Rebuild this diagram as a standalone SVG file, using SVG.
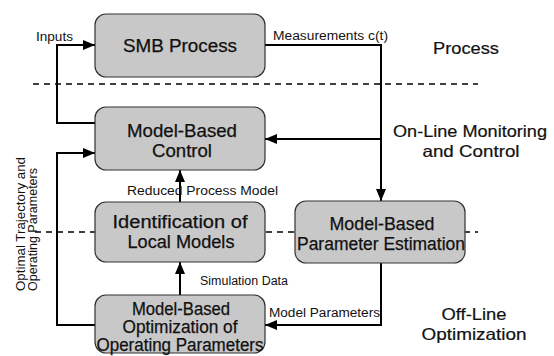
<svg xmlns="http://www.w3.org/2000/svg" width="554" height="356" viewBox="0 0 554 356">
<style>
.box{fill:#c8c8c8;stroke:#333;stroke-width:1.2}
.t{font-family:"Liberation Sans",Arial,sans-serif;fill:#111}
.bt{font-size:17.5px;text-anchor:middle;stroke:#111;stroke-width:0.25}
.lb{font-size:12px}
.rl{font-size:13px}
.rt{font-size:16.5px;text-anchor:middle;stroke:#111;stroke-width:0.2}
.c{fill:none;stroke:#000;stroke-width:2}
.d{fill:none;stroke:#000;stroke-width:1.3;stroke-dasharray:6 5}
</style>
<defs>
<marker id="ah" markerUnits="userSpaceOnUse" markerWidth="12" markerHeight="10" refX="12" refY="5" orient="auto">
<path d="M0,0 L12,5 L0,10 z" fill="#000"/>
</marker>
</defs>
<g id="dashes">
<line class="d" x1="33" y1="84" x2="478" y2="84"/>
<line class="d" x1="35" y1="232" x2="478" y2="232"/>
</g>
<g id="connectors">
<path class="c" d="M95,123 H57 V45 H95" marker-end="url(#ah)"/>
<path class="c" d="M265,45 H381 V201" marker-end="url(#ah)"/>
<path class="c" d="M381,139 H265" marker-end="url(#ah)"/>
<path class="c" d="M180,202 V170" marker-end="url(#ah)"/>
<path class="c" d="M180,295 V262" marker-end="url(#ah)"/>
<path class="c" d="M381,263 V325 H265" marker-end="url(#ah)"/>
<path class="c" d="M95,325 H57 V153 H95" marker-end="url(#ah)"/>
</g>
<g id="smb">
<rect class="box" x="95" y="14" width="170" height="63" rx="11"/>
<text class="t bt" x="180" y="52" textLength="114" lengthAdjust="spacingAndGlyphs">SMB Process</text>
</g>
<g id="control">
<rect class="box" x="95" y="107" width="170" height="63" rx="11"/>
<text class="t bt" x="182" y="137" textLength="110" lengthAdjust="spacingAndGlyphs">Model-Based</text>
<text class="t bt" x="182" y="157" textLength="60" lengthAdjust="spacingAndGlyphs">Control</text>
</g>
<g id="identification">
<rect class="box" x="95" y="202" width="170" height="60" rx="11"/>
<text class="t bt" x="180" y="228" textLength="135" lengthAdjust="spacingAndGlyphs">Identification of</text>
<text class="t bt" x="181" y="248" textLength="107" lengthAdjust="spacingAndGlyphs">Local Models</text>
</g>
<g id="estimation">
<rect class="box" x="295" y="201" width="170" height="62" rx="11"/>
<text class="t bt" x="382" y="230" textLength="105" lengthAdjust="spacingAndGlyphs">Model-Based</text>
<text class="t bt" x="381" y="250" textLength="168" lengthAdjust="spacingAndGlyphs">Parameter Estimation</text>
</g>
<g id="optimization">
<rect class="box" x="95" y="295" width="170" height="58" rx="11"/>
<text class="t bt" x="181" y="315" textLength="98" lengthAdjust="spacingAndGlyphs">Model-Based</text>
<text class="t bt" x="180" y="333" textLength="115" lengthAdjust="spacingAndGlyphs">Optimization of</text>
<text class="t bt" x="180" y="351" textLength="167" lengthAdjust="spacingAndGlyphs">Operating Parameters</text>
</g>
<g id="labels">
<text class="t lb" x="36" y="41" textLength="37" lengthAdjust="spacingAndGlyphs">Inputs</text>
<text class="t lb" x="273" y="40" textLength="115" lengthAdjust="spacingAndGlyphs">Measurements c(t)</text>
<text class="t lb" x="127" y="195" textLength="151" lengthAdjust="spacingAndGlyphs">Reduced Process Model</text>
<text class="t lb" x="200" y="285" textLength="88" lengthAdjust="spacingAndGlyphs">Simulation Data</text>
<text class="t lb" x="269" y="317" textLength="111" lengthAdjust="spacingAndGlyphs">Model Parameters</text>
<text class="t rl" transform="translate(25,291) rotate(-90)" textLength="134" lengthAdjust="spacingAndGlyphs">Optimal Trajectory and</text>
<text class="t rl" transform="translate(37,291) rotate(-90)" textLength="123" lengthAdjust="spacingAndGlyphs">Operating Parameters</text>
<text class="t rt" x="466" y="54" textLength="66" lengthAdjust="spacingAndGlyphs">Process</text>
<text class="t rt" x="470" y="137" textLength="154" lengthAdjust="spacingAndGlyphs">On-Line Monitoring</text>
<text class="t rt" x="471" y="157" textLength="97" lengthAdjust="spacingAndGlyphs">and Control</text>
<text class="t rt" x="474" y="320" textLength="65" lengthAdjust="spacingAndGlyphs">Off-Line</text>
<text class="t rt" x="474" y="340" textLength="105" lengthAdjust="spacingAndGlyphs">Optimization</text>
</g>
</svg>
